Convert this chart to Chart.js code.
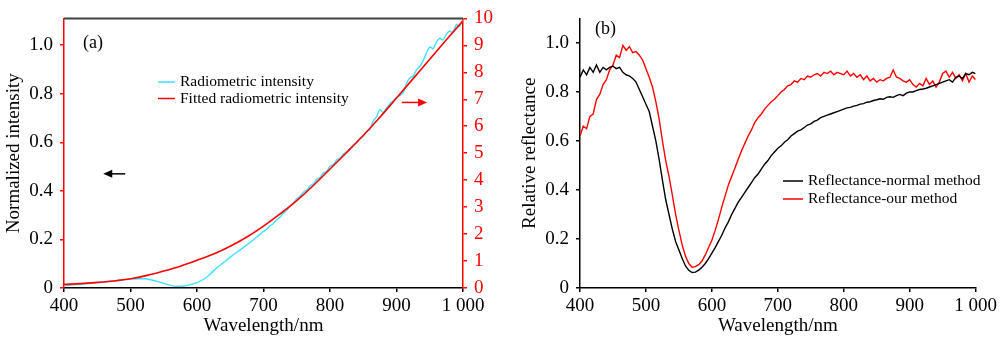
<!DOCTYPE html>
<html>
<head>
<meta charset="utf-8">
<script src="https://cdn.jsdelivr.net/npm/chart.js@4.4.0/dist/chart.umd.min.js"></script>
<style>
  html, body { margin: 0; padding: 0; background: #fff; }
  .panel { position: absolute; top: 0; width: 500px; height: 339px; }
  #wrapA { left: 0; }
  #wrapB { left: 500px; }
</style>
</head>
<body>
<div class="panel" id="wrapA"><canvas id="chartA" width="500" height="339"></canvas></div>
<div class="panel" id="wrapB"><canvas id="chartB" width="500" height="339"></canvas></div>
<script>
// (a) radiometric intensity, measured and fitted (normalized)
const radioWl = [
  400, 410, 420, 430, 440, 450, 460, 470, 480, 490,
  500, 510, 520, 530, 540, 550, 560, 570, 580, 590,
  600, 610, 620, 630, 640, 650, 660, 670, 680, 690, 700,
  705, 710, 715, 720, 725, 730, 735, 740, 745, 750,
  755, 760, 765, 770, 775, 780, 785, 790, 795, 800,
  805, 810, 815, 820, 825, 830, 835, 840, 845, 850,
  855, 860, 865, 870, 875, 880, 885, 890, 895, 900,
  905, 910, 915, 920, 925, 930, 935, 940, 945, 950,
  955, 960, 965, 970, 975, 980, 985, 990, 995, 1000
];
const radioVal = [
  0.010, 0.012, 0.014, 0.016, 0.019, 0.022, 0.025, 0.028, 0.031, 0.034,
  0.036, 0.038, 0.038, 0.034, 0.027, 0.019, 0.011, 0.007, 0.008, 0.014,
  0.022, 0.036, 0.058, 0.083, 0.105, 0.127, 0.147, 0.167, 0.188, 0.210, 0.233,
  0.243, 0.256, 0.266, 0.281, 0.292, 0.309, 0.321, 0.338, 0.350, 0.367,
  0.378, 0.394, 0.402, 0.421, 0.429, 0.447, 0.455, 0.474, 0.480, 0.502,
  0.508, 0.527, 0.534, 0.552, 0.561, 0.573, 0.590, 0.598, 0.617, 0.625,
  0.644, 0.653, 0.688, 0.705, 0.735, 0.722, 0.741, 0.758, 0.771, 0.784,
  0.792, 0.803, 0.842, 0.865, 0.872, 0.898, 0.912, 0.935, 0.968, 0.992,
  0.985, 1.012, 1.028, 1.021, 1.045, 1.058, 1.052, 1.085, 1.078, 1.105
];
const fitWl = [400, 425, 450, 475, 500, 525, 550, 575, 600, 625, 650, 675, 700,
  725, 750, 775, 800, 825, 850, 875, 900, 925, 950, 975, 1000];
const fitVal = [0.015, 0.018, 0.023, 0.029, 0.038, 0.052, 0.070, 0.090, 0.114, 0.140, 0.172, 0.210, 0.255,
  0.305, 0.360, 0.422, 0.490, 0.558, 0.628, 0.703, 0.782, 0.862, 0.942, 1.022, 1.100];

// (b) relative reflectance, 5 nm steps
const reflWl = [
  400, 405, 410, 415, 420, 425, 430, 435, 440, 445,
  450, 455, 460, 465, 470, 475, 480, 485, 490, 495,
  500, 505, 510, 515, 520, 525, 530, 535, 540, 545,
  550, 555, 560, 565, 570, 575, 580, 585, 590, 595,
  600, 605, 610, 615, 620, 625, 630, 635, 640, 645,
  650, 655, 660, 665, 670, 675, 680, 685, 690, 695,
  700, 705, 710, 715, 720, 725, 730, 735, 740, 745,
  750, 755, 760, 765, 770, 775, 780, 785, 790, 795,
  800, 805, 810, 815, 820, 825, 830, 835, 840, 845,
  850, 855, 860, 865, 870, 875, 880, 885, 890, 895,
  900, 905, 910, 915, 920, 925, 930, 935, 940, 945,
  950, 955, 960, 965, 970, 975, 980, 985, 990, 995,
  1000
];
const reflNormal = [
  0.86, 0.89, 0.87, 0.90, 0.88, 0.91, 0.88, 0.90, 0.89, 0.90,
  0.905, 0.895, 0.90, 0.88, 0.87, 0.865, 0.855, 0.84, 0.81, 0.78,
  0.75, 0.72, 0.66, 0.60, 0.525, 0.44, 0.36, 0.30, 0.24, 0.19,
  0.155, 0.12, 0.09, 0.072, 0.063, 0.065, 0.073, 0.085, 0.10, 0.12,
  0.142, 0.165, 0.19, 0.215, 0.245, 0.27, 0.30, 0.325, 0.35, 0.37,
  0.39, 0.41, 0.43, 0.45, 0.465, 0.485, 0.505, 0.52, 0.54, 0.555,
  0.57, 0.58, 0.595, 0.605, 0.62, 0.63, 0.64, 0.645, 0.655, 0.665,
  0.67, 0.68, 0.685, 0.695, 0.70, 0.705, 0.71, 0.715, 0.72, 0.725,
  0.73, 0.735, 0.737, 0.742, 0.745, 0.75, 0.752, 0.758, 0.76, 0.765,
  0.768, 0.772, 0.77, 0.778, 0.78, 0.778, 0.785, 0.79, 0.785, 0.795,
  0.80, 0.80, 0.805, 0.81, 0.812, 0.815, 0.82, 0.825, 0.83, 0.835,
  0.84, 0.845, 0.85, 0.84, 0.86, 0.865, 0.855, 0.875, 0.87, 0.88,
  0.875
];
const reflOurs = [
  0.62, 0.66, 0.65, 0.70, 0.71, 0.77, 0.79, 0.83, 0.85, 0.89,
  0.91, 0.95, 0.94, 0.99, 0.97, 0.985, 0.96, 0.965, 0.95, 0.93,
  0.895, 0.86, 0.82, 0.76, 0.69, 0.60, 0.52, 0.455, 0.38, 0.30,
  0.235, 0.175, 0.13, 0.10, 0.085, 0.087, 0.095, 0.11, 0.135, 0.165,
  0.195, 0.235, 0.28, 0.33, 0.375, 0.42, 0.455, 0.49, 0.525, 0.56,
  0.59, 0.62, 0.645, 0.675, 0.695, 0.71, 0.73, 0.745, 0.76, 0.77,
  0.785, 0.80, 0.81, 0.825, 0.83, 0.845, 0.84, 0.855, 0.85, 0.865,
  0.86, 0.87, 0.875, 0.865, 0.88, 0.875, 0.885, 0.87, 0.88, 0.875,
  0.87, 0.885, 0.865, 0.875, 0.86, 0.87, 0.85, 0.865, 0.845, 0.855,
  0.84, 0.85, 0.845, 0.855, 0.86, 0.89, 0.86, 0.855, 0.845, 0.84,
  0.85, 0.83, 0.82, 0.835, 0.825, 0.855, 0.83, 0.845, 0.82, 0.84,
  0.875, 0.885, 0.86, 0.88, 0.855, 0.87, 0.845, 0.875, 0.84, 0.865,
  0.85
];

const serif = "'Liberation Serif', 'Times New Roman', serif";
Chart.defaults.font.family = serif;
Chart.defaults.color = '#000';

const pts = (xs, ys) => xs.map((x, i) => ({ x: x, y: ys[i] }));
const wlLabel = v => (v === 1000 ? '1 000' : String(v));
const tickFont = { family: serif, size: 19 };
const titleFont = { family: serif, size: 19 };

// panel letters, in-plot legend keys, pointer arrows and the top frame line
const notes = {
  id: 'notes',
  afterDatasetsDraw(chart, args, opts) {
    const ctx = chart.ctx;
    const area = chart.chartArea;
    ctx.save();
    if (opts.frameTop) {
      ctx.strokeStyle = opts.frameTop;
      ctx.lineWidth = 2;
      ctx.beginPath();
      ctx.moveTo(area.left, area.top);
      ctx.lineTo(area.right, area.top);
      ctx.stroke();
    }
    (opts.texts || []).forEach(t => {
      ctx.font = '18px ' + serif;
      ctx.fillStyle = '#000';
      ctx.textBaseline = 'middle';
      ctx.fillText(t.text, t.x, t.y);
    });
    if (opts.keys) {
      const k = opts.keys;
      ctx.font = k.size + 'px ' + serif;
      ctx.textBaseline = 'middle';
      k.items.forEach((idx, i) => {
        const ds = chart.data.datasets[idx];
        const y = k.y + i * k.gap;
        ctx.strokeStyle = ds.borderColor;
        ctx.lineWidth = 1.5;
        ctx.beginPath();
        ctx.moveTo(k.x, y);
        ctx.lineTo(k.x + k.len, y);
        ctx.stroke();
        ctx.fillStyle = '#000';
        ctx.fillText(ds.label, k.x + k.len + 5, y);
      });
    }
    (opts.arrows || []).forEach(a => {
      const xs = chart.scales.x, ys = chart.scales.y;
      const x0 = xs.getPixelForValue(a.from[0]), y0 = ys.getPixelForValue(a.from[1]);
      const x1 = xs.getPixelForValue(a.to[0]), y1 = ys.getPixelForValue(a.to[1]);
      const dir = Math.sign(x1 - x0);
      ctx.strokeStyle = a.color;
      ctx.fillStyle = a.color;
      ctx.lineWidth = 1.5;
      ctx.beginPath();
      ctx.moveTo(x0, y0);
      ctx.lineTo(x1 - dir * 6, y1);
      ctx.stroke();
      ctx.beginPath();
      ctx.moveTo(x1, y1);
      ctx.lineTo(x1 - dir * 9, y1 - 4);
      ctx.lineTo(x1 - dir * 9, y1 + 4);
      ctx.closePath();
      ctx.fill();
    });
    ctx.restore();
  }
};

const xAxis = {
  type: 'linear', min: 400, max: 1000,
  ticks: { stepSize: 100, font: tickFont, color: '#000', padding: 3, maxRotation: 0, autoSkip: false, callback: wlLabel },
  grid: { drawOnChartArea: false, drawTicks: true, tickLength: 4, color: '#000', lineWidth: 1.5 },
  border: { color: '#000', width: 1.5 },
  title: { display: true, text: 'Wavelength/nm', font: titleFont, color: '#000', padding: { top: 0, bottom: 2 } },
  afterFit: s => { s.height = 51; }
};

new Chart(document.getElementById('chartA'), {
  type: 'line',
  data: {
    datasets: [
      { label: 'Fitted radiometric intensity', data: pts(fitWl, fitVal), borderColor: '#ff0000', borderWidth: 1.6,
        pointRadius: 0, cubicInterpolationMode: 'monotone', yAxisID: 'y' },
      { label: 'Radiometric intensity', data: pts(radioWl, radioVal), borderColor: '#3fe0ff', borderWidth: 1.4,
        pointRadius: 0, tension: 0.2, yAxisID: 'y' }
    ]
  },
  options: {
    responsive: false, animation: false,
    layout: { padding: { top: 15, left: 0, right: 0, bottom: 0 } },
    plugins: {
      legend: { display: false }, tooltip: { enabled: false },
      notes: {
        frameTop: '#404040',
        texts: [{ text: '(a)', x: 83, y: 43 }],
        keys: { x: 158, y: 82, gap: 16.5, len: 17, size: 15.5, items: [1, 0] },
        arrows: [
          { from: [492, 0.47], to: [459, 0.47], color: '#000' },
          { from: [908, 0.764], to: [946, 0.764], color: '#ff0000' }
        ]
      }
    },
    scales: {
      x: xAxis,
      y: {
        position: 'left', min: 0, max: 1.11,
        ticks: { stepSize: 0.1, includeBounds: false, font: tickFont, color: '#000', padding: 7,
          callback: v => { const t = Math.round(v * 10); return t % 2 ? '' : (t === 0 ? '0' : (t / 10).toFixed(1)); } },
        grid: { drawOnChartArea: false, drawTicks: true, tickLength: 4, color: '#ff0000', lineWidth: 1.5 },
        border: { color: '#ff0000', width: 1.5 },
        title: { display: true, text: 'Normalized intensity', font: titleFont, color: '#000', padding: { top: 3, bottom: 0 } },
        afterFit: s => { s.width = 64; }
      },
      y2: {
        position: 'right', min: 0, max: 10,
        ticks: { stepSize: 1, font: tickFont, color: '#ff0000', padding: 7 },
        grid: { drawOnChartArea: false, drawTicks: true, tickLength: 4, color: '#ff0000', lineWidth: 1.5 },
        border: { color: '#ff0000', width: 1.5 },
        afterFit: s => { s.width = 37; }
      }
    }
  },
  plugins: [notes]
});

new Chart(document.getElementById('chartB'), {
  type: 'line',
  data: {
    datasets: [
      { label: 'Reflectance-normal method', data: pts(reflWl, reflNormal), borderColor: '#000000', borderWidth: 1.4,
        pointRadius: 0, tension: 0 },
      { label: 'Reflectance-our method', data: pts(reflWl, reflOurs), borderColor: '#ff0000', borderWidth: 1.4,
        pointRadius: 0, tension: 0 }
    ]
  },
  options: {
    responsive: false, animation: false,
    layout: { padding: { top: 15, left: 0, right: 22, bottom: 0 } },
    plugins: {
      legend: { display: false }, tooltip: { enabled: false },
      notes: {
        texts: [{ text: '(b)', x: 95, y: 29 }],
        keys: { x: 283, y: 181, gap: 18, len: 20, size: 15.5, items: [0, 1] }
      }
    },
    scales: {
      x: xAxis,
      y: {
        position: 'left', min: 0, max: 1.1,
        ticks: { stepSize: 0.2, includeBounds: false, font: tickFont, color: '#000', padding: 7,
          callback: v => (v === 0 ? '0' : v.toFixed(1)) },
        grid: { drawOnChartArea: false, drawTicks: true, tickLength: 4, color: '#000', lineWidth: 1.5 },
        border: { color: '#000', width: 1.5 },
        title: { display: true, text: 'Relative reflectance', font: titleFont, color: '#000', padding: { top: 19, bottom: 0 } },
        afterFit: s => { s.width = 80; }
      }
    }
  },
  plugins: [notes]
});
</script>
</body>
</html>
